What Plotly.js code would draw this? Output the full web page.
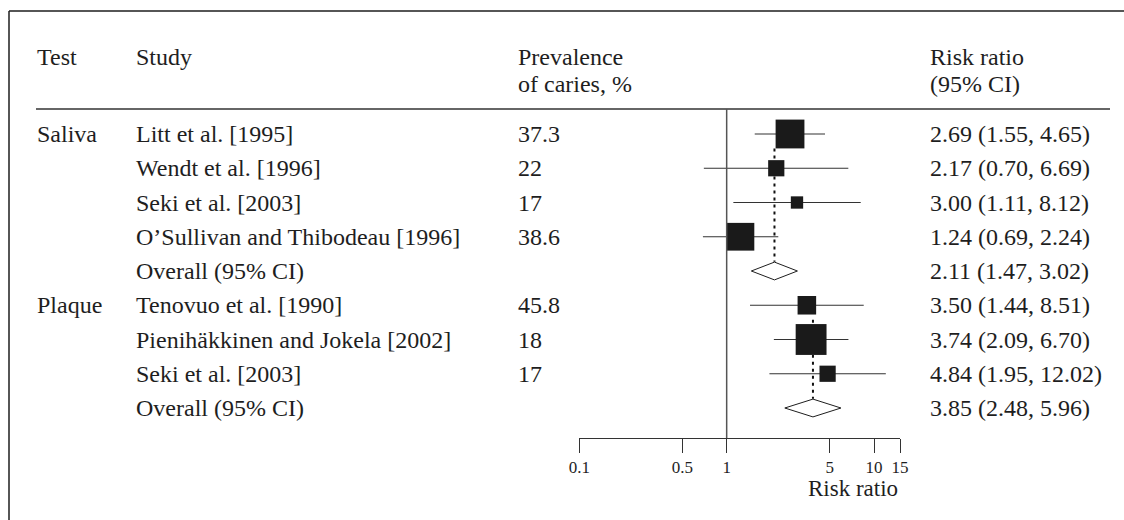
<!DOCTYPE html>
<html>
<head>
<meta charset="utf-8">
<script src="https://cdn.plot.ly/plotly-3.0.1.min.js"></script>
<style>html,body{margin:0;padding:0;background:#fff;}#chart{width:1124px;height:520px;}</style>
</head>
<body>
<div id="chart"></div>
<script>
// ---- data ----
const testLabels = ["Saliva", "", "", "", "", "Plaque", "", "", ""];
const studies = ["Litt et al. [1995]", "Wendt et al. [1996]", "Seki et al. [2003]",
  "O\u2019Sullivan and Thibodeau [1996]", "Overall (95% CI)",
  "Tenovuo et al. [1990]", "Pienih\u00e4kkinen and Jokela [2002]", "Seki et al. [2003]",
  "Overall (95% CI)"];
const prevalence = ["37.3", "22", "17", "38.6", "", "45.8", "18", "17", ""];
const riskRatio = [2.69, 2.17, 3.00, 1.24, 2.11, 3.50, 3.74, 4.84, 3.85];
const ciLow = [1.55, 0.70, 1.11, 0.69, 1.47, 1.44, 2.09, 1.95, 2.48];
const ciHigh = [4.65, 6.69, 8.12, 2.24, 3.02, 8.51, 6.70, 12.02, 5.96];
const isOverall = [false, false, false, false, true, false, false, false, true];
const studyWeight = [41, 13, 7.5, 38, 0, 17, 47, 13, 0];   // relative weight (square area)
const tickValues = [0.1, 0.5, 1, 5, 10, 15];
const tickLabels = ["0.1", "0.5", "1", "5", "10", "15"];
const headerTest = "Test";
const headerStudy = "Study";
const headerPrev = ["Prevalence", "of caries, %"];
const headerRR = ["Risk ratio", "(95% CI)"];
const axisTitle = "Risk ratio";

// ---- layout helpers ----
const W = 1124, H = 520;
const rowTop = 134, rowStep = 34.25;
const yOfPx = p => (p - rowTop) / rowStep;
const FONT = '"Liberation Serif", "Times New Roman", serif';
const INK = '#1e1e1e';
const FS = 24;

const rows = studies.map((_, i) => i);
const traces = [];

// dotted lines at pooled estimates
let groupStart = 0;
rows.forEach(i => {
  if (isOverall[i]) {
    traces.push({x: [riskRatio[i], riskRatio[i]], y: [groupStart + 0.42, i - 0.27],
      mode: 'lines', line: {color: '#111', width: 2, dash: '3px,4px'}, hoverinfo: 'skip', showlegend: false});
    groupStart = i + 1;
  }
});

// whiskers
const wx = [], wy = [];
rows.forEach(i => { if (!isOverall[i]) { wx.push(ciLow[i], ciHigh[i], null); wy.push(i, i, null); } });
traces.push({x: wx, y: wy, mode: 'lines', line: {color: '#333', width: 1.2}, hoverinfo: 'skip', showlegend: false});

// squares
const si = rows.filter(i => !isOverall[i]);
traces.push({x: si.map(i => riskRatio[i]), y: si, mode: 'markers', hoverinfo: 'x', opacity: 1,
  marker: {symbol: 'square', color: '#1a1a1a', opacity: 1, size: si.map(i => 4.5 * Math.sqrt(studyWeight[i])), line: {width: 0}},
  showlegend: false, cliponaxis: false});

// diamonds
rows.filter(i => isOverall[i]).forEach(i => {
  const h = 0.26;
  traces.push({x: [ciLow[i], riskRatio[i], ciHigh[i], riskRatio[i], ciLow[i]],
    y: [i, i - h, i, i + h, i], mode: 'lines', fill: 'toself', fillcolor: '#fff',
    line: {color: INK, width: 1}, hoverinfo: 'skip', showlegend: false, cliponaxis: false});
});

// annotations
const ann = [];
const txt = (text, xpx, y, extra) => Object.assign({text: text, x: xpx / W, xref: 'paper', y: y, yref: 'y',
  xanchor: 'left', yanchor: 'middle', showarrow: false, align: 'left',
  font: {family: FONT, size: FS, color: INK}}, extra || {});
rows.forEach(i => {
  if (testLabels[i]) ann.push(txt(testLabels[i], 35, i));
  ann.push(txt(studies[i], 134, i));
  if (prevalence[i]) ann.push(txt(prevalence[i], 516, i));
  ann.push(txt(riskRatio[i].toFixed(2) + ' (' + ciLow[i].toFixed(2) + ', ' + ciHigh[i].toFixed(2) + ')', 928, i));
});
const h1 = yOfPx(57), h2 = yOfPx(84);
ann.push(txt(headerTest, 35, h1));
ann.push(txt(headerStudy, 134, h1));
ann.push(txt(headerPrev[0], 516, h1));
ann.push(txt(headerPrev[1], 516, h2));
ann.push(txt(headerRR[0], 928, h1));
ann.push(txt(headerRR[1], 928, h2));
ann.push(txt(axisTitle, 853, yOfPx(488), {xanchor: 'center', font: {family: FONT, size: 23, color: INK}}));

const axisY = 438;
const layout = {
  width: W, height: H,
  margin: {l: 0, r: 0, t: 0, b: 0},
  paper_bgcolor: '#fff', plot_bgcolor: 'rgba(0,0,0,0)',
  font: {family: FONT, color: INK},
  xaxis: {type: 'log', domain: [579.3 / W, 900 / W], range: [-1, Math.log10(15)],
    anchor: 'free', position: 1 - axisY / H,
    tickvals: tickValues, ticktext: tickLabels, ticks: 'outside', ticklen: 14, tickwidth: 1, tickcolor: '#333',
    showline: true, linecolor: '#333', linewidth: 1, showgrid: false, zeroline: false,
    tickfont: {family: FONT, size: 17, color: INK}, fixedrange: true},
  yaxis: {range: [yOfPx(H), yOfPx(0)], visible: false, showgrid: false, zeroline: false, fixedrange: true},
  annotations: ann,
  shapes: [
    {type: 'line', xref: 'paper', yref: 'paper', x0: 9 / W, x1: 1, y0: 1 - 11 / H, y1: 1 - 11 / H, line: {color: INK, width: 1.5}},
    {type: 'line', xref: 'paper', yref: 'paper', x0: 9 / W, x1: 9 / W, y0: 1 - 11 / H, y1: 0, line: {color: INK, width: 1.5}},
    {type: 'line', xref: 'paper', yref: 'paper', x0: 36 / W, x1: 1110 / W, y0: 1 - 109 / H, y1: 1 - 109 / H, line: {color: '#666', width: 2}},
    {type: 'line', xref: 'x', yref: 'paper', x0: 1, x1: 1, y0: 1 - 109 / H, y1: 1 - axisY / H, line: {color: '#555', width: 1.5}}
  ],
  showlegend: false
};

Plotly.newPlot('chart', traces, layout, {displayModeBar: false, staticPlot: true});
</script>
</body>
</html>
